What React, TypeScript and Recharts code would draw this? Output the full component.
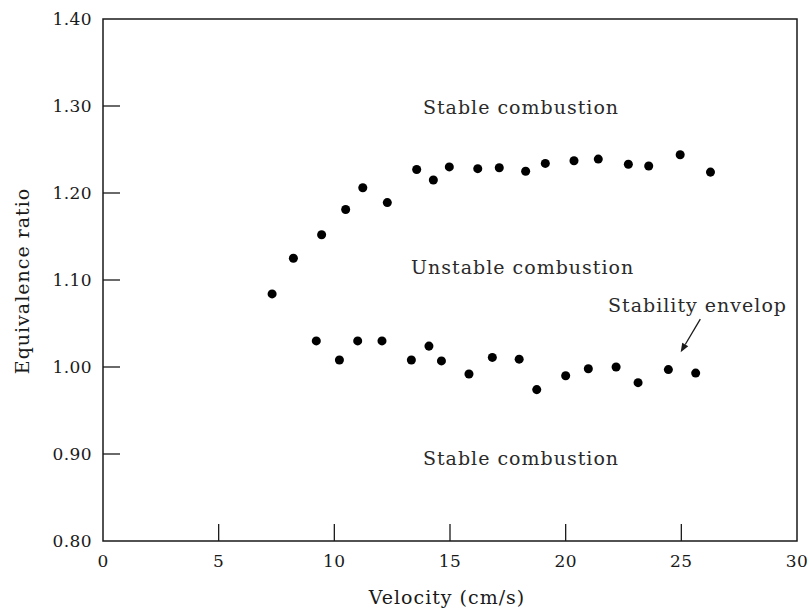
// Stability map: equivalence ratio vs velocity, upper and lower stability limits.
import {
  ScatterChart,
  Scatter,
  XAxis,
  YAxis,
  ZAxis,
  ReferenceArea,
  ReferenceDot,
  ReferenceLine,
} from "recharts";

const upperLimit = [
  { v: 7.31, phi: 1.084 },
  { v: 8.23, phi: 1.125 },
  { v: 9.45, phi: 1.152 },
  { v: 10.49, phi: 1.181 },
  { v: 11.23, phi: 1.206 },
  { v: 12.29, phi: 1.189 },
  { v: 13.56, phi: 1.227 },
  { v: 14.28, phi: 1.215 },
  { v: 14.97, phi: 1.23 },
  { v: 16.2, phi: 1.228 },
  { v: 17.13, phi: 1.229 },
  { v: 18.27, phi: 1.225 },
  { v: 19.12, phi: 1.234 },
  { v: 20.36, phi: 1.237 },
  { v: 21.41, phi: 1.239 },
  { v: 22.71, phi: 1.233 },
  { v: 23.59, phi: 1.231 },
  { v: 24.95, phi: 1.244 },
  { v: 26.26, phi: 1.224 },
];

const lowerLimit = [
  { v: 9.22, phi: 1.03 },
  { v: 10.22, phi: 1.008 },
  { v: 11.01, phi: 1.03 },
  { v: 12.06, phi: 1.03 },
  { v: 13.33, phi: 1.008 },
  { v: 14.09, phi: 1.024 },
  { v: 14.63, phi: 1.007 },
  { v: 15.82, phi: 0.992 },
  { v: 16.83, phi: 1.011 },
  { v: 17.99, phi: 1.009 },
  { v: 18.75, phi: 0.974 },
  { v: 20.0, phi: 0.99 },
  { v: 20.98, phi: 0.998 },
  { v: 22.18, phi: 1.0 },
  { v: 23.13, phi: 0.982 },
  { v: 24.44, phi: 0.997 },
  { v: 25.62, phi: 0.993 },
];

const xTicks = [0, 5, 10, 15, 20, 25, 30];
const yTicks = [0.8, 0.9, 1.0, 1.1, 1.2, 1.3, 1.4];

const regionNotes = [
  { v: 18.07, phi: 1.299, text: "Stable combustion" },
  { v: 18.14, phi: 1.115, text: "Unstable combustion" },
  { v: 18.07, phi: 0.895, text: "Stable combustion" },
  { v: 25.7, phi: 1.071, text: "Stability envelop" },
];

const arrowFrom = { v: 25.82, phi: 1.055 };
const arrowTo = { v: 24.97, phi: 1.017 };

const FONT = "'DejaVu Serif', serif";
const INK = "#1a1a1a";

function YTick({ x, y, payload }: any) {
  const val = payload.value as number;
  const edge = val === 0.8 || val === 1.4;
  return (
    <g>
      {!edge && <line x1={x} x2={x + 17} y1={y} y2={y} stroke={INK} strokeWidth={1.3} />}
      <text
        x={x - 11}
        y={y}
        dy="0.38em"
        textAnchor="end"
        fontFamily={FONT}
        fontSize={17}
        letterSpacing={0.4}
        fill={INK}
      >
        {val.toFixed(2)}
      </text>
    </g>
  );
}

function XTick({ x, y, payload }: any) {
  const val = payload.value as number;
  const edge = val === 0 || val === 30;
  return (
    <g>
      {!edge && <line x1={x} x2={x} y1={y} y2={y - 17} stroke={INK} strokeWidth={1.3} />}
      <text
        x={x}
        y={y + 14}
        dy="0.72em"
        textAnchor="middle"
        fontFamily={FONT}
        fontSize={17}
        letterSpacing={0.4}
        fill={INK}
      >
        {val}
      </text>
    </g>
  );
}

function Arrow({ x1, y1, x2, y2 }: any) {
  const ang = Math.atan2(y2 - y1, x2 - x1);
  const len = 9;
  const wing = 3.5;
  const bx = x2 - len * Math.cos(ang);
  const by = y2 - len * Math.sin(ang);
  const px = -Math.sin(ang) * wing;
  const py = Math.cos(ang) * wing;
  return (
    <g>
      <line x1={x1} y1={y1} x2={bx} y2={by} stroke={INK} strokeWidth={1.3} />
      <polygon points={`${x2},${y2} ${bx + px},${by + py} ${bx - px},${by - py}`} fill={INK} />
    </g>
  );
}

export default function App() {
  return (
    <div style={{ position: "absolute", left: 0, top: 0, width: 810, height: 609, background: "#fff" }}>
      <ScatterChart width={810} height={609} margin={{ top: 19, right: 13, left: 0, bottom: 0 }}>
        <XAxis
          type="number"
          dataKey="v"
          domain={[0, 30]}
          ticks={xTicks}
          tickSize={0}
          tickMargin={0}
          height={68}
          axisLine={false}
          tick={<XTick />}
          allowDataOverflow
        />
        <YAxis
          type="number"
          dataKey="phi"
          domain={[0.8, 1.4]}
          ticks={yTicks}
          tickSize={0}
          tickMargin={0}
          width={103}
          axisLine={false}
          tick={<YTick />}
          allowDataOverflow
        />
        <ZAxis range={[60, 60]} />
        <ReferenceArea x1={0} x2={30} y1={0.8} y2={1.4} fill="none" stroke={INK} strokeWidth={1.5} />
        <Scatter data={upperLimit} fill="#000" isAnimationActive={false} />
        <Scatter data={lowerLimit} fill="#000" isAnimationActive={false} />
        {regionNotes.map((n, i) => (
          <ReferenceDot
            key={i}
            x={n.v}
            y={n.phi}
            r={1}
            fill="none"
            stroke="none"
            label={{
              value: n.text,
              position: "center",
              fontFamily: FONT,
              fontSize: 19,
              letterSpacing: 1,
              fill: "#2a2a2a",
            }}
          />
        ))}
        <ReferenceLine
          segment={[
            { x: arrowFrom.v, y: arrowFrom.phi },
            { x: arrowTo.v, y: arrowTo.phi },
          ]}
          shape={<Arrow />}
        />
      </ScatterChart>
      <div
        style={{
          position: "absolute",
          left: 447,
          top: 597,
          transform: "translate(-50%, -50%)",
          fontFamily: FONT,
          fontSize: 19,
          letterSpacing: 1,
          color: INK,
          whiteSpace: "nowrap",
        }}
      >
        Velocity (cm/s)
      </div>
      <div
        style={{
          position: "absolute",
          left: 22,
          top: 281,
          transform: "translate(-50%, -50%) rotate(-90deg)",
          fontFamily: FONT,
          fontSize: 19,
          letterSpacing: 1,
          color: INK,
          whiteSpace: "nowrap",
        }}
      >
        Equivalence ratio
      </div>
    </div>
  );
}
